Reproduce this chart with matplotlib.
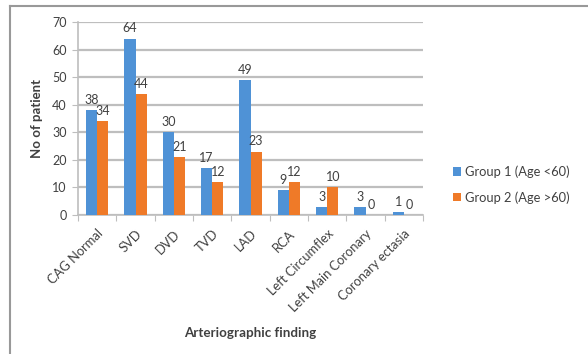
import numpy as np
import matplotlib
matplotlib.use("Agg")
import matplotlib.pyplot as plt
from matplotlib.lines import Line2D

categories = ["CAG Normal", "SVD", "DVD", "TVD", "LAD", "RCA",
              "Left Circumflex", "Left Main Coronary", "Coronary ectasia"]
group1 = [38, 64, 30, 17, 49, 9, 3, 3, 1]
group2 = [34, 44, 21, 12, 23, 12, 10, 0, 0]
series_names = ["Group 1 (Age <60)", "Group 2 (Age >60)"]
y_ticks = [0, 10, 20, 30, 40, 50, 60, 70]

plt.rcParams["font.family"] = ["Lato", "DejaVu Sans"]

BLUE = "#4F92D6"
ORANGE = "#EF7A28"
GRID = "#BEBEBE"
TEXT = "#404040"

fig = plt.figure(figsize=(5.88, 3.54), dpi=100)
fig.patch.set_facecolor("white")
ax = fig.add_axes([78 / 588, 1 - 215 / 354, 345 / 588, 193 / 354])

x = np.arange(len(categories))
w = 0.29
b1 = ax.bar(x - w / 2, group1, w, color=BLUE, label=series_names[0], zorder=3)
b2 = ax.bar(x + w / 2, group2, w, color=ORANGE, label=series_names[1], zorder=3)

for bars, vals in ((b1, group1), (b2, group2)):
    for rect, v in zip(bars, vals):
        ax.annotate(str(v), (rect.get_x() + rect.get_width() / 2, v),
                    xytext=(0, 3), textcoords="offset points",
                    ha="center", va="bottom", fontsize=9, color=TEXT, zorder=4)

ax.set_xlim(-0.5, len(categories) - 0.5)
ax.set_ylim(0, 70)
ax.set_yticks(y_ticks)
ax.yaxis.grid(True, color=GRID, linewidth=1.6, zorder=0)
ax.set_axisbelow(True)

ax.set_xticks(np.arange(len(categories) + 1) - 0.5, minor=False)
ax.set_xticklabels([])
ax.set_xticks(x, minor=True)
ax.set_xticklabels(categories, minor=True, rotation=45, ha="right",
                   rotation_mode="anchor", fontsize=9.3, color=TEXT)
ax.tick_params(axis="x", which="minor", length=0, pad=9)
ax.tick_params(axis="x", which="major", length=4, color=GRID, direction="out")
ax.tick_params(axis="y", length=4, color=GRID, labelsize=9, labelcolor=TEXT, pad=4)

for s in ("top", "right"):
    ax.spines[s].set_visible(False)
ax.spines["left"].set_color(GRID)
ax.spines["bottom"].set_color(GRID)
ax.spines["left"].set_linewidth(1.2)
ax.spines["bottom"].set_linewidth(1.2)

ax.set_ylabel("No of patient", fontsize=9.5, fontweight="bold", color=TEXT)
ax.yaxis.set_label_coords(-0.1, 0.5)
ax.set_xlabel("Arteriographic finding", fontsize=9.6, fontweight="bold", color=TEXT)
ax.xaxis.set_label_coords(0.5, -0.58)

fig.legend(handles=[b1, b2], labels=series_names, loc="center left",
           bbox_to_anchor=(441 / 588, 1 - 184.5 / 354), frameon=False,
           fontsize=9.3, handlelength=0.65, handleheight=0.65, handletextpad=0.3,
           labelspacing=1.0, labelcolor=TEXT)

# outer chart frame
frame_kw = dict(color="#999999", linewidth=1.5, transform=fig.transFigure)
fig.add_artist(Line2D([10 / 588, 1.0], [1 - 5.5 / 354] * 2, **frame_kw))
fig.add_artist(Line2D([10 / 588] * 2, [0.0, 1 - 5.5 / 354], **frame_kw))

fig.savefig("out.png", dpi=100, facecolor="white")
